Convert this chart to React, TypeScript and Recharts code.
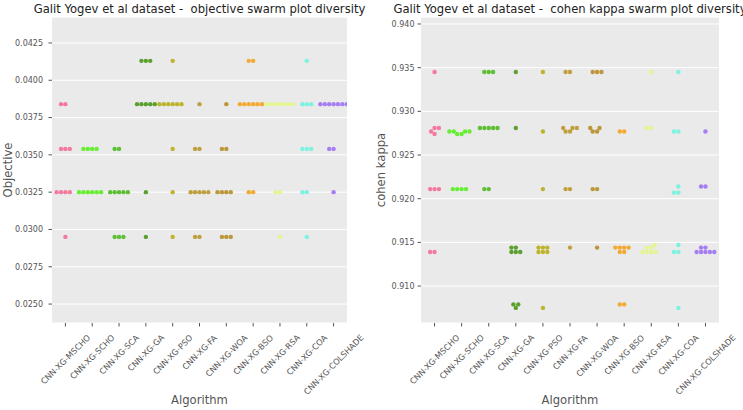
import React from "react";
import { ScatterChart, Scatter, XAxis, YAxis, CartesianGrid } from "recharts";

const categories = [
  "CNN-XG-MSCHO",
  "CNN-XG-SCHO",
  "CNN-XG-SCA",
  "CNN-XG-GA",
  "CNN-XG-PSO",
  "CNN-XG-FA",
  "CNN-XG-WOA",
  "CNN-XG-BSO",
  "CNN-XG-RSA",
  "CNN-XG-COA",
  "CNN-XG-COLSHADE",
];

const colors = [
  "#f5799d",
  "#66ee33",
  "#5cbf34",
  "#5aa02e",
  "#bdb42e",
  "#c0a03e",
  "#bb963a",
  "#f2aa33",
  "#e4f590",
  "#7cf2e0",
  "#a47ef2",
];

// objective per run, one list per algorithm (same order as categories)
const objectiveValues = [
  [0.0384, 0.0384, 0.0354, 0.0354, 0.0354, 0.0325, 0.0325, 0.0325, 0.0325, 0.0295],
  [0.0354, 0.0354, 0.0354, 0.0354, 0.0325, 0.0325, 0.0325, 0.0325, 0.0325, 0.0325],
  [0.0354, 0.0354, 0.0325, 0.0325, 0.0325, 0.0325, 0.0325, 0.0295, 0.0295, 0.0295],
  [0.0413, 0.0413, 0.0413, 0.0384, 0.0384, 0.0384, 0.0384, 0.0384, 0.0325, 0.0295],
  [0.0413, 0.0384, 0.0384, 0.0384, 0.0384, 0.0384, 0.0384, 0.0354, 0.0325, 0.0295],
  [0.0384, 0.0354, 0.0354, 0.0325, 0.0325, 0.0325, 0.0325, 0.0325, 0.0295, 0.0295],
  [0.0384, 0.0354, 0.0354, 0.0325, 0.0325, 0.0325, 0.0325, 0.0295, 0.0295, 0.0295],
  [0.0413, 0.0413, 0.0384, 0.0384, 0.0384, 0.0384, 0.0384, 0.0384, 0.0325, 0.0325],
  [0.0384, 0.0384, 0.0384, 0.0384, 0.0384, 0.0384, 0.0384, 0.0325, 0.0325, 0.0295],
  [0.0413, 0.0384, 0.0384, 0.0384, 0.0354, 0.0354, 0.0354, 0.0325, 0.0325, 0.0295],
  [0.0384, 0.0384, 0.0384, 0.0384, 0.0384, 0.0384, 0.0384, 0.0354, 0.0354, 0.0325],
];

// cohen kappa per run
const kappaValues = [
  [0.9345, 0.9281, 0.9281, 0.9277, 0.9274, 0.9211, 0.9211, 0.9211, 0.9139, 0.9139],
  [0.9277, 0.9277, 0.9277, 0.9277, 0.9274, 0.9274, 0.9211, 0.9211, 0.9211, 0.9211],
  [0.9345, 0.9345, 0.9345, 0.9281, 0.9281, 0.9281, 0.9281, 0.9281, 0.9211, 0.9211],
  [0.9345, 0.9281, 0.9144, 0.9144, 0.9139, 0.9139, 0.9139, 0.9079, 0.9079, 0.9075],
  [0.9345, 0.9277, 0.9211, 0.9144, 0.9144, 0.9144, 0.9139, 0.9139, 0.9139, 0.9075],
  [0.9345, 0.9345, 0.9281, 0.9281, 0.9281, 0.9277, 0.9277, 0.9211, 0.9211, 0.9144],
  [0.9345, 0.9345, 0.9345, 0.9281, 0.9281, 0.9277, 0.9277, 0.9211, 0.9211, 0.9144],
  [0.9277, 0.9277, 0.9144, 0.9144, 0.9144, 0.9144, 0.9139, 0.9139, 0.9079, 0.9079],
  [0.9345, 0.9281, 0.9281, 0.9147, 0.9144, 0.9144, 0.9139, 0.9139, 0.9139, 0.9139],
  [0.9345, 0.9277, 0.9277, 0.9214, 0.9207, 0.9207, 0.9147, 0.9139, 0.9139, 0.9075],
  [0.9277, 0.9214, 0.9214, 0.9144, 0.9144, 0.9139, 0.9139, 0.9139, 0.9139, 0.9139],
];

const objectiveTicks = [0.025, 0.0275, 0.03, 0.0325, 0.035, 0.0375, 0.04, 0.0425];
const kappaTicks = [0.91, 0.915, 0.92, 0.925, 0.93, 0.935, 0.94];

const FONT = "'DejaVu Sans', sans-serif";
const DOT_D = 4.2; // collision diameter in px
const PLOT_TOP = 17;
const PLOT_H = 306;

// rough DejaVu Sans advance widths (em) for tick label lengths
const charW: Record<string, number> = {
  C: 0.698, N: 0.748, "-": 0.361, X: 0.685, G: 0.775, M: 0.863, S: 0.635,
  H: 0.752, O: 0.787, A: 0.684, P: 0.603, F: 0.575, W: 0.989, B: 0.686,
  R: 0.695, L: 0.557, D: 0.77, E: 0.632,
};

// seaborn-like beeswarm, offsets in px
function swarmOffsets(values: number[], pxPerUnit: number, d: number): number[] {
  const order = values.map((_, i) => i).sort((a, b) => values[a] - values[b] || a - b);
  const placed: { x: number; y: number }[] = [];
  const out = new Array(values.length).fill(0);
  for (const i of order) {
    const y = values[i] * pxPerUnit;
    const nb = placed.filter((p) => Math.abs(p.y - y) < d);
    const cands: number[] = [0];
    let leftFirst = true;
    for (const p of nb) {
      const dx = Math.sqrt(Math.max(d * d - (y - p.y) ** 2, 0)) * 1.05;
      const l = p.x - dx;
      const r = p.x + dx;
      cands.push(...(leftFirst ? [l, r] : [r, l]));
      leftFirst = !leftFirst;
    }
    const sorted = cands
      .map((x, k) => ({ x, k }))
      .sort((a, b) => Math.abs(a.x) - Math.abs(b.x) || a.k - b.k);
    let chosen = 0;
    for (const c of sorted) {
      if (nb.every((p) => (p.x - c.x) ** 2 + (p.y - y) ** 2 >= d * d - 1e-6)) {
        chosen = c.x;
        break;
      }
    }
    placed.push({ x: chosen, y });
    out[i] = chosen;
  }
  return out;
}

const XTick = (props: any) => {
  const { x, y, payload } = props;
  const label = categories[payload.value] ?? "";
  const fs = 8.2;
  const L = label.split("").reduce((s: number, ch: string) => s + (charW[ch] ?? 0.65), 0) * fs;
  const h = fs * 1.164;
  const cy = y + 4 + ((L + h) * Math.SQRT1_2) / 2;
  return (
    <text
      x={x}
      y={cy}
      textAnchor="middle"
      dominantBaseline="central"
      transform={`rotate(-45, ${x}, ${cy})`}
      fill="#555"
      fontSize={fs}
      fontFamily={FONT}
    >
      {label}
    </text>
  );
};

type PanelProps = {
  left: number;
  width: number;
  yAxisWidth: number;
  marginRight: number;
  tickGap: number;
  title: string;
  yLabel: string;
  labelOffset: number;
  values: number[][];
  ticks: number[];
  domain: [number, number];
  digits: number;
};

function Panel(p: PanelProps) {
  const plotW = p.width - p.yAxisWidth - p.marginRight;
  const pxPerCat = plotW / categories.length;
  const pxPerUnit = PLOT_H / (p.domain[1] - p.domain[0]);
  const center = p.left + p.yAxisWidth + plotW / 2;

  return (
    <>
      <div
        style={{
          position: "absolute",
          left: center - 250,
          width: 500,
          top: 2,
          textAlign: "center",
          whiteSpace: "pre",
          fontFamily: FONT,
          fontSize: 11.6,
          color: "#222",
        }}
      >
        {p.title}
      </div>
      <div style={{ position: "absolute", left: p.left, top: 0 }}>
        <ScatterChart
          width={p.width}
          height={410}
          margin={{ top: PLOT_TOP, right: p.marginRight, bottom: 0, left: 0 }}
        >
          <CartesianGrid fill="#EAEAEA" stroke="#ffffff" strokeWidth={1} vertical={false} />
          <XAxis
            type="number"
            dataKey="x"
            domain={[-0.5, categories.length - 0.5]}
            ticks={categories.map((_, i) => i)}
            interval={0}
            allowDataOverflow
            height={87}
            axisLine={false}
            tickLine={{ stroke: "#555" }}
            tickSize={3.5}
            tickMargin={2}
            tick={<XTick />}
            label={{
              value: "Algorithm",
              position: "insideBottom",
              offset: 6.5,
              fill: "#555",
              fontSize: 11.6,
              fontFamily: FONT,
            }}
          />
          <YAxis
            type="number"
            dataKey="y"
            domain={p.domain}
            ticks={p.ticks}
            interval={0}
            allowDataOverflow
            width={p.yAxisWidth}
            axisLine={false}
            tickLine={{ stroke: "#555" }}
            tickSize={3.5}
            tickMargin={p.tickGap}
            tickFormatter={(v: number) => v.toFixed(p.digits)}
            tick={{ fill: "#555", fontSize: 8, fontFamily: FONT }}
            label={{
              value: p.yLabel,
              angle: -90,
              position: "insideLeft",
              offset: p.labelOffset,
              fill: "#555",
              fontSize: 11.6,
              fontFamily: FONT,
              style: { textAnchor: "middle" },
            }}
          />
          {categories.map((cat, ci) => {
            const vals = p.values[ci];
            const off = swarmOffsets(vals, pxPerUnit, DOT_D);
            const data = vals.map((v, j) => ({ x: ci + off[j] / pxPerCat, y: v }));
            return (
              <Scatter
                key={cat}
                name={cat}
                data={data}
                isAnimationActive={false}
                shape={(s: any) => <circle cx={s.cx} cy={s.cy} r={2.2} fill={colors[ci]} />}
              />
            );
          })}
        </ScatterChart>
      </div>
    </>
  );
}

export default function App() {
  return (
    <div
      style={{
        position: "absolute",
        left: 0,
        top: 0,
        width: 743,
        height: 410,
        overflow: "hidden",
        background: "#fff",
      }}
    >
      <Panel
        left={0}
        width={372}
        yAxisWidth={52}
        marginRight={25}
        tickGap={5.5}
        title="Galit Yogev et al dataset -  objective swarm plot diversity"
        yLabel="Objective"
        labelOffset={8}
        values={objectiveValues}
        ticks={objectiveTicks}
        domain={[0.02373, 0.04424]}
        digits={4}
      />
      <Panel
        left={372}
        width={371}
        yAxisWidth={49}
        marginRight={24}
        tickGap={3}
        title="Galit Yogev et al dataset -  cohen kappa swarm plot diversity"
        yLabel="cohen kappa"
        labelOffset={9}
        values={kappaValues}
        ticks={kappaTicks}
        domain={[0.90577, 0.9408]}
        digits={3}
      />
    </div>
  );
}
